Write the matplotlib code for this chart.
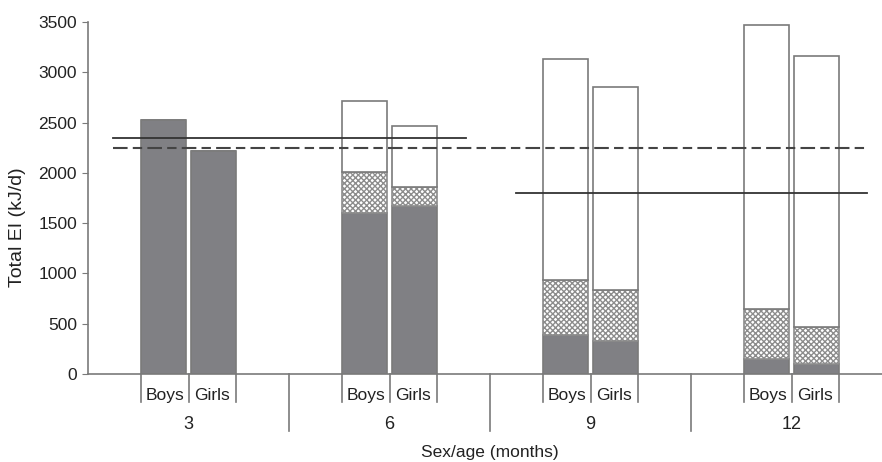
import numpy as np
import matplotlib
matplotlib.use('Agg')
import matplotlib.pyplot as plt

plt.rcParams['font.family'] = ['Liberation Sans', 'DejaVu Sans']
plt.rcParams['hatch.linewidth'] = 1.0

ages = ['3', '6', '9', '12']
sexes = ['Boys', 'Girls']

# energy intake by segment, order: boys 3, girls 3, boys 6, girls 6, ...
milk = [2530, 2220, 1600, 1670, 390, 330, 145, 100]
mixed = [0, 0, 410, 185, 540, 505, 500, 370]
solids = [0, 0, 700, 610, 2200, 2020, 2825, 2695]

# reference requirement lines
ref_early = 2350   # 3-6 months
ref_all = 2250
ref_late = 1800    # 9-12 months

edge = '#7a7a7a'
dark = '#808084'
txt = '#222222'

fig = plt.figure(figsize=(8.82, 4.62), dpi=100)
ax = fig.add_axes([88/882, 88/462, 804/882, 352/462])

bw = 0.222
off = 0.124
x = []
for i in range(len(ages)):
    x += [i - off, i + off]
x = np.array(x)
milk = np.array(milk)
mixed = np.array(mixed)
solids = np.array(solids)

ax.bar(x, milk, bw, color=dark, edgecolor=edge, linewidth=1.2)
ax.bar(x, mixed, bw, bottom=milk, color='white', edgecolor='#8c8c8c',
       hatch='xxxxxx', linewidth=1.2)
ax.bar(x, solids, bw, bottom=milk + mixed, color='white', edgecolor=edge,
       linewidth=1.2)

ax.plot([-0.376, 1.381], [ref_early] * 2, color='#333333', lw=1.3)
ax.plot([-0.376, 3.381], [ref_all] * 2, color='#444444', lw=1.5,
        linestyle=(0, (7, 2.5, 4.5, 2.5)))
ax.plot([1.629, 3.376], [ref_late] * 2, color='#333333', lw=1.3)

ax.set_xlim(-0.5, 3.5)
ax.set_ylim(0, 3500)
ax.set_yticks(np.arange(0, 3501, 500))
ax.tick_params(axis='y', length=4, color=edge, labelsize=12.5,
               labelcolor=txt, pad=4)
ax.set_xticks([])
for s in ['top', 'right']:
    ax.spines[s].set_visible(False)
ax.spines['left'].set_color(edge)
ax.spines['bottom'].set_color(edge)
ax.spines['left'].set_linewidth(1.2)
ax.spines['bottom'].set_linewidth(1.2)

trans = ax.get_xaxis_transform()
for i, age in enumerate(ages):
    for xe in [i - 0.2385, i, i + 0.2385]:
        ax.plot([xe, xe], [0, -0.08], transform=trans, color=edge, lw=1.2,
                clip_on=False)
    for j, sx in enumerate(sexes):
        ax.text(i + (j - 0.5) * 0.238, -0.074, sx, transform=trans,
                ha='center', va='baseline', fontsize=12.5, color=txt)
    ax.text(i, -0.157, age, transform=trans, ha='center', va='baseline',
            fontsize=13, color=txt)
    if i < len(ages) - 1:
        ax.plot([i + 0.5, i + 0.5], [0, -0.161], transform=trans, color=edge,
                lw=1.2, clip_on=False)

ax.text(1.5, -0.236, 'Sex/age (months)', transform=trans, ha='center',
        va='baseline', fontsize=12.5, color=txt)
ax.set_ylabel('Total EI (kJ/d)', fontsize=14, color=txt, va='center')
ax.yaxis.set_label_coords(-0.088, 0.418)

plt.savefig('out.png', dpi=100)
plt.close()
